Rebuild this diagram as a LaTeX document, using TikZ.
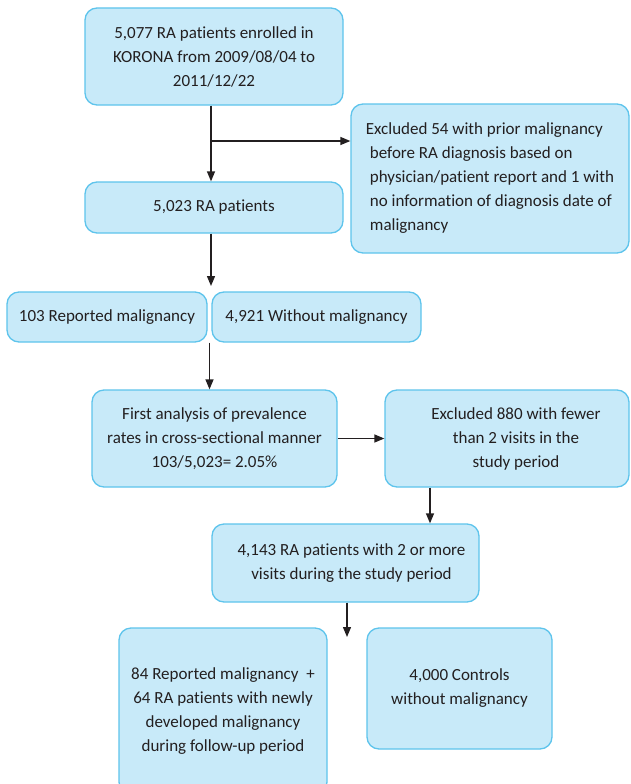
\documentclass[tikz,border=0pt]{standalone}
\usepackage{fontspec}
\setmainfont{Carlito}[Ligatures=NoCommon]
\usetikzlibrary{arrows.meta,calc}
\definecolor{boxfill}{RGB}{200,234,249}
\definecolor{boxline}{RGB}{94,196,236}
\definecolor{ink}{RGB}{35,31,32}
\tikzset{
  flowbox/.style={draw=boxline, fill=boxfill, line width=1.3pt, rounded corners=12pt,
    inner sep=0pt, text=ink, align=center, font=\fontsize{17}{24}\selectfont},
  arr/.style={draw=ink, line width=1.3pt, -{Triangle[length=10pt,width=8pt]}}
}
\begin{document}
\begin{tikzpicture}[x=1pt,y=-1pt]
\useasboundingbox (0,0) rectangle (630,784);
\clip (0,0) rectangle (630,784);
\fill[white] (0,0) rectangle (630,784);
% boxes
\node[flowbox, minimum width=258, minimum height=97] (b1) at (214,56.5)
  {5,077 RA patients enrolled in\\KORONA from 2009/08/04 to\\2011/12/22};
\node[flowbox, minimum width=278, minimum height=149, align=left] (ex1) at (490,178.5)
  {Excluded 54 with prior malignancy\\
   \hspace*{4pt}before RA diagnosis based on\\
   \hspace*{4pt}physician/patient report and 1 with\\
   \hspace*{4pt}no information of diagnosis date of\\
   \hspace*{4pt}malignancy};
\node[flowbox, minimum width=258, minimum height=51] (b2) at (214,207.5) {5,023 RA patients};
\node[flowbox, minimum width=200, minimum height=50] (r1) at (107,317) {103 Reported malignancy};
\node[flowbox, minimum width=209, minimum height=50] (r2) at (316.5,317) {4,921 Without malignancy};
\node[flowbox, minimum width=245, minimum height=97] (fa) at (214.5,438.5)
  {First analysis of prevalence\\rates in cross-sectional manner\\103/5,023= 2.05\%};
\node[flowbox, minimum width=244, minimum height=97] (ex2) at (507,438.5)
  {\hspace*{18pt}Excluded 880 with fewer\\\hspace*{18pt}than 2 visits in the\\\hspace*{18pt}study period};
\node[flowbox, minimum width=267, minimum height=78] (b4) at (345.5,563)
  {\hspace*{12pt}4,143 RA patients with 2 or more\\\hspace*{12pt}visits during the study period};
\node[flowbox, minimum width=208, minimum height=166] (m1) at (223,711)
  {84 Reported malignancy~~+\\64 RA patients with newly\\developed malignancy\\during follow-up period};
\node[flowbox, minimum width=185, minimum height=121] (c1) at (459.5,688.5)
  {4,000 Controls\\without malignancy};
% connectors
\coordinate (j1) at (211,141);
\coordinate (t1) at (210,286);
\coordinate (t2) at (347,637);
\draw[arr] ([xshift=-3]b1.south) -- ([xshift=-3]b1.south |- b2.north);
\draw[arr] (j1) -- (j1 -| ex1.west);
\draw[arr] ([xshift=-3]b2.south) -- ([xshift=-3]b2.south |- t1);
\coordinate (rm) at ($(r1.south east)!0.5!(r2.south west)$);
\draw[arr] (rm) -- (rm |- fa.north);
\draw[arr] (fa.east) -- (ex2.west);
\draw[arr] ([xshift=-77]ex2.south) -- ([xshift=-77]ex2.south |- b4.north);
\draw[arr] ([xshift=1.5]b4.south) -- ([xshift=1.5]b4.south |- t2);
\end{tikzpicture}
\end{document}
